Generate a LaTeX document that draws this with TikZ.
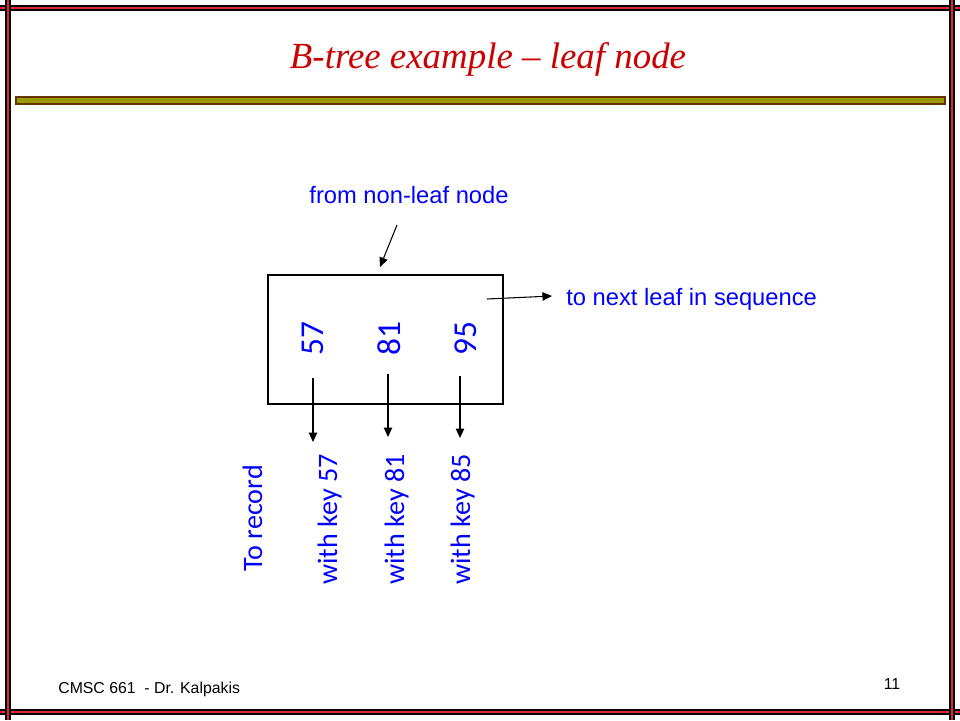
\documentclass[tikz,border=0pt]{standalone}
\usepackage{fontspec}
\setmainfont{Liberation Serif}
\setsansfont{Liberation Sans}
\newfontfamily\calibrifont{Carlito}
\usetikzlibrary{arrows.meta}

\definecolor{keyblue}{RGB}{0,0,255}
\definecolor{titlered}{RGB}{204,0,0}
\definecolor{rimred}{RGB}{220,40,40}
\definecolor{barolive}{RGB}{153,153,0}
\definecolor{barbrown}{RGB}{102,51,0}

\tikzset{
  rimblack/.style={line width=3.3pt, black},
  rimcore/.style={line width=1.6pt, rimred},
  pointer/.style={-{Triangle[length=0.19cm,width=0.17cm]}, line width=0.6pt},
  notetext/.style={text=keyblue, font=\sffamily\fontsize{13.5}{16}\selectfont, inner sep=0pt},
  keytext/.style={text=keyblue, font=\calibrifont\fontsize{16}{19}\selectfont,
    rotate=90, anchor=base west, inner sep=0pt},
  keynum/.style={keytext, font=\calibrifont\fontsize{19}{23}\selectfont},
  footer/.style={font=\sffamily\fontsize{9}{11}\selectfont, inner sep=0pt}
}

\begin{document}
\begin{tikzpicture}[x=0.02cm, y=-0.02cm]
    \useasboundingbox (0,0) rectangle (960,720);

    \draw[rimblack] (0,8) -- (960,8);
    \draw[rimcore] (0,8) -- (960,8);
    \draw[rimblack] (0,712) -- (960,712);
    \draw[rimcore] (0,712) -- (960,712);
    \draw[rimblack] (8,0) -- (8,720);
    \draw[rimcore] (8,0) -- (8,720);
    \draw[rimblack] (952,0) -- (952,720);
    \draw[rimcore] (952,0) -- (952,720);

    \draw[fill=barolive, draw=barbrown, line width=0.8pt] (16,97) rectangle (945,104);

    \node[anchor=base, text=titlered, font=\itshape\fontsize{21}{25}\selectfont] (title) at (488,68) {B-tree example -- leaf node};

    \node[draw, line width=0.7pt, minimum width=4.7cm, minimum height=2.58cm] (leaf) at (385.5,339.5) {};

    \node[keynum] (k57) at (323,356) {57};
    \node[keynum] (k81) at (400,356) {81};
    \node[keynum] (k95) at (476,356) {95};

    \node[notetext, anchor=base] (fromtext) at (409,203) {from non-leaf node};
    \node[notetext, anchor=base west] (nexttext) at (566,305) {to next leaf in sequence};

    \node[keytext] (torec) at (262,572) {To record};
    \node[keytext] (rec57) at (337,585) {with key 57};
    \node[keytext] (rec81) at (404,585) {with key 81};
    \node[keytext] (rec85) at (470,585) {with key 85};

    \coordinate (upstart) at (397,225);
    \coordinate (upend) at (380,267);
    \coordinate (nextstart) at (487,299);
    \coordinate (nextend) at (552,296);
    \coordinate (p57a) at (313,378);
    \coordinate (p57b) at (313,442);
    \coordinate (p81a) at (388,374);
    \coordinate (p81b) at (388,437);
    \coordinate (p95a) at (460,376);
    \coordinate (p95b) at (460,438);

    \draw[pointer] (upstart) -- (upend);
    \draw[pointer] (nextstart) -- (nextend);
    \draw[pointer] (p57a) -- (p57b);
    \draw[pointer] (p81a) -- (p81b);
    \draw[pointer] (p95a) -- (p95b);

    \node[footer, anchor=base west] (course) at (58,693) {CMSC 661\ \ - Dr. Kalpakis};
    \node[footer, anchor=base] (pagenum) at (892,689) {11};

\end{tikzpicture}
\end{document}
